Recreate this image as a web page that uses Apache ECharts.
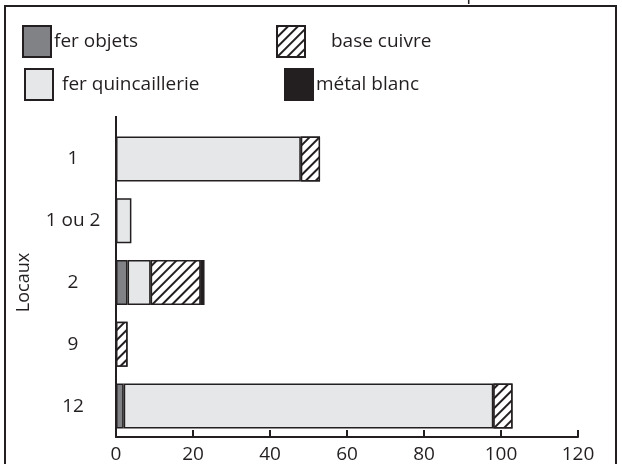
<!DOCTYPE html>
<html>
<head>
<meta charset="utf-8">
<script src="https://cdn.jsdelivr.net/npm/echarts@6/dist/echarts.min.js"></script>
<style>html,body{margin:0;padding:0;background:#fff;}#c{width:622px;height:464px;}</style>
</head>
<body>
<div id="c"></div>
<script>
var categories = ['1', '1 ou 2', '2', '9', '12'];
var ferObjets = [0, 0, 3, 0, 2];
var ferQuincaillerie = [48, 4, 6, 0, 96];
var baseCuivre = [5, 0, 13, 3, 5];
var metalBlanc = [0, 0, 1, 0, 0];
var xTicks = [0, 20, 40, 60, 80, 100, 120];

var FONT = 'Open Sans';
var INK = '#231f20';
function nz(arr) { return arr.map(function (v) { return v === 0 ? '-' : v; }); }

var chart = echarts.init(document.getElementById('c'), null, { renderer: 'canvas' });
function legendAt(name, left, top, pad) {
  return {
    data: [name], left: left, top: top, padding: 0, itemWidth: 28, itemHeight: 31,
    icon: 'rect', selectedMode: false,
    textStyle: { fontFamily: FONT, fontSize: 19, color: INK, padding: [0, 0, 0, pad] }
  };
}
var common = { type: 'bar', stack: 'tot', barWidth: 45 };
chart.setOption({
  animation: false,
  title: {
    text: 'Nombre de restes du mobilier métallique', left: 'center', top: -20,
    textStyle: { fontFamily: FONT, fontSize: 19, fontWeight: 'normal', color: INK }
  },
  legend: [
    legendAt('fer objets', 22, 25, -2),
    legendAt('base cuivre', 276, 25, 21),
    legendAt('fer quincaillerie', 24, 68, 4),
    legendAt('métal blanc', 284, 68, -2)
  ],
  grid: { left: 116, right: 44, top: 128, height: 309 },
  xAxis: {
    type: 'value', min: xTicks[0], max: xTicks[xTicks.length - 1], interval: xTicks[1] - xTicks[0],
    axisLine: { show: true, lineStyle: { color: INK, width: 2 } },
    axisTick: { show: true, inside: true, length: 7, lineStyle: { color: INK, width: 2 } },
    splitLine: { show: false },
    axisLabel: { fontFamily: FONT, fontSize: 19, color: INK, margin: 8 }
  },
  yAxis: {
    type: 'category', data: categories, inverse: true,
    name: 'Locaux', nameLocation: 'middle', nameGap: 83, nameRotate: 90,
    nameTextStyle: { fontFamily: FONT, fontSize: 18, color: INK },
    axisLine: { show: true, lineStyle: { color: INK, width: 2 } },
    axisTick: { show: false },
    axisLabel: { fontFamily: FONT, fontSize: 19, color: INK, align: 'center', margin: 43 }
  },
  series: [
    Object.assign({}, common, { name: 'fer objets', data: nz(ferObjets),
      itemStyle: { color: '#808285', borderColor: INK, borderWidth: 1.5 } }),
    Object.assign({}, common, { name: 'fer quincaillerie', data: nz(ferQuincaillerie),
      itemStyle: { color: '#e6e7e8', borderColor: INK, borderWidth: 1.5 } }),
    Object.assign({}, common, { name: 'base cuivre', data: nz(baseCuivre),
      itemStyle: { color: '#ffffff', borderColor: INK, borderWidth: 1.5,
        decal: { symbol: 'rect', color: INK, backgroundColor: '#ffffff', dashArrayX: [1, 0], dashArrayY: [1.3, 4.5], rotation: -Math.PI / 4 } } }),
    Object.assign({}, common, { name: 'métal blanc', data: nz(metalBlanc),
      itemStyle: { color: INK, borderColor: INK, borderWidth: 1.5 } })
  ],
  graphic: [
    { type: 'rect', silent: true, shape: { x: 5, y: 6, width: 611, height: 470 },
      style: { fill: 'none', stroke: INK, lineWidth: 2 } },
    { type: 'line', silent: true, shape: { x1: 116, y1: 116, x2: 116, y2: 130 },
      style: { stroke: INK, lineWidth: 2 } }
  ]
});
</script>
</body>
</html>
